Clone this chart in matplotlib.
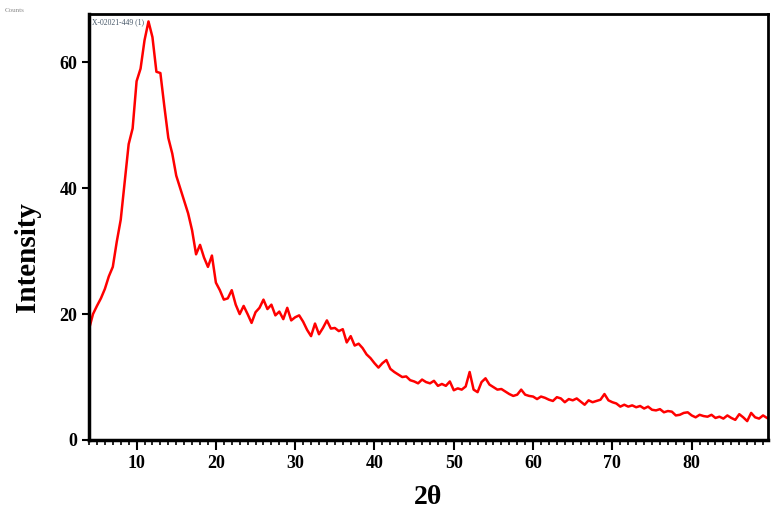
import numpy as np
from matplotlib import pyplot as plt
from matplotlib.ticker import MultipleLocator

# 2-theta grid (deg) and intensity
two_theta = np.arange(4.0, 90.0, 0.5)
intensity = [
    17.6, 20.0, 21.3, 22.5, 24.0, 26.0, 27.5, 31.5, 35.0, 41.0,
    47.0, 49.5, 57.0, 59.0, 63.5, 66.5, 64.0, 58.5, 58.3, 53.0,
    48.0, 45.5, 42.0, 40.0, 38.0, 36.0, 33.3, 29.5, 31.0, 29.0,
    27.5, 29.3, 25.0, 23.8, 22.3, 22.5, 23.8, 21.5, 20.0, 21.3,
    20.0, 18.6, 20.3, 21.0, 22.3, 20.8, 21.5, 19.8, 20.4, 19.2,
    21.0, 19.0, 19.5, 19.8, 18.8, 17.5, 16.5, 18.5, 16.8, 17.8,
    19.0, 17.7, 17.8, 17.3, 17.6, 15.5, 16.5, 15.0, 15.3, 14.6,
    13.6, 13.0, 12.2, 11.5, 12.2, 12.7, 11.3, 10.8, 10.4, 10.0,
    10.1, 9.5, 9.3, 9.0, 9.6, 9.2, 9.0, 9.4, 8.6, 8.9,
    8.6, 9.3, 7.9, 8.2, 8.0, 8.5, 10.8, 8.0, 7.6, 9.2,
    9.8, 8.8, 8.4, 8.0, 8.1, 7.7, 7.3, 7.0, 7.2, 8.0,
    7.2, 7.0, 6.9, 6.5, 6.9, 6.7, 6.4, 6.2, 6.8, 6.6,
    6.0, 6.5, 6.3, 6.6, 6.1, 5.6, 6.3, 6.0, 6.2, 6.4,
    7.3, 6.3, 6.0, 5.8, 5.3, 5.6, 5.3, 5.5, 5.2, 5.4,
    5.0, 5.3, 4.8, 4.7, 4.9, 4.4, 4.6, 4.5, 3.9, 4.0,
    4.3, 4.4, 3.9, 3.6, 4.0, 3.8, 3.7, 4.0, 3.5, 3.7,
    3.4, 3.9, 3.5, 3.2, 4.1, 3.6, 3.0, 4.3, 3.6, 3.4,
    3.9, 3.5,
]
x_ticks = [10, 20, 30, 40, 50, 60, 70, 80]
y_ticks = [0, 20, 40, 60]

plt.rcParams['font.family'] = ['Liberation Serif', 'DejaVu Serif']

fig = plt.figure(figsize=(7.74, 5.14), dpi=100)
ax = fig.add_axes([0.115, 0.144, 0.877, 0.829])
ax.plot(two_theta, intensity, color='red', lw=1.8)

ax.set_xlim(4.0, 89.6)
ax.set_ylim(0, 67.7)
ax.set_xticks(x_ticks)
ax.set_yticks(y_ticks)
ax.xaxis.set_minor_locator(MultipleLocator(1))
ax.tick_params(axis='both', direction='out', labelsize=13, width=1.5)
ax.tick_params(axis='x', which='major', length=7)
ax.tick_params(axis='x', which='minor', length=3.5, width=1.2)
ax.tick_params(axis='y', length=5)
for lbl in ax.get_xticklabels() + ax.get_yticklabels():
    lbl.set_fontweight('bold')

for side in ['left', 'bottom']:
    ax.spines[side].set_linewidth(2.5)
for side in ['top', 'right']:
    ax.spines[side].set_linewidth(2.0)

ax.set_xlabel('2θ', fontsize=20, fontweight='bold', labelpad=10)
ax.set_ylabel('Intensity', fontsize=21, fontweight='bold')
ax.yaxis.set_label_coords(-0.07, 0.43)

fig.text(0.006, 0.985, 'Counts', fontsize=5, color='#888888', va='top')
ax.text(0.005, 0.99, 'X-02021-449 (1)', transform=ax.transAxes, fontsize=5.5,
        color='#445566', va='top')

fig.savefig('out.png', dpi=100)
